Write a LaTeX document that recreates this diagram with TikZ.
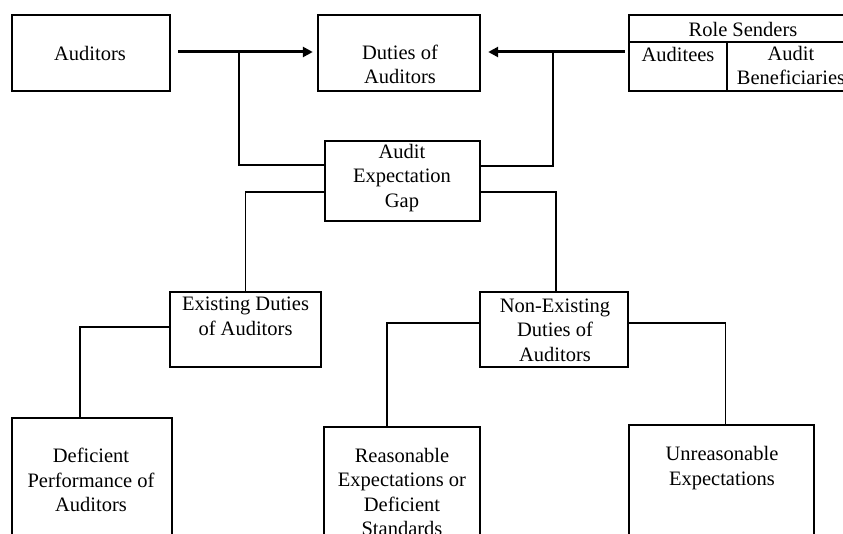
\documentclass[tikz,border=0pt]{standalone}
\usepackage{fontspec}
\setmainfont{Liberation Serif}
\usetikzlibrary{arrows.meta}
\begin{document}
\begin{tikzpicture}[x=1pt,y=-1pt,
  box/.style={draw, line width=1.1pt, inner sep=0pt},
  txt/.style={inner sep=0pt, align=center, font=\fontsize{20.5}{24.5}\selectfont},
  conn/.style={line width=1.1pt},
  thickarrow/.style={line width=3pt, -{Triangle[length=10pt,width=10pt]}}]
\useasboundingbox (0,0) rectangle (843,534);
\clip (0,0) rectangle (843,534);
\fill[white] (0,0) rectangle (843,534);
% boxes
\draw[box] (12,15) rectangle (170,91);
\node[inner sep=0pt, minimum width=158pt, minimum height=76pt] (aud) at (91,53) {};
\node[txt] (taud) at (90,53) {Auditors};

\draw[box] (318,15) rectangle (480,91);
\node[inner sep=0pt, minimum width=162pt, minimum height=76pt] (duties) at (399,53) {};
\node[txt] (tduties) at (400,64.5) {Duties of\\Auditors};

\draw[box] (629,15) rectangle (856,91);
\draw[conn] (629,42) -- (856,42);
\draw[conn] (727,42) -- (727,91);
\node[inner sep=0pt, minimum width=227pt, minimum height=76pt] (role) at (742.5,53) {};
\node[txt] (trole) at (743,29) {Role Senders};
\node[txt] (tauditees) at (678,54) {Auditees};
\node[txt] (tbenef) at (791,65.5) {Audit\\Beneficiaries};

\draw[box] (325,141) rectangle (480,221);
\node[inner sep=0pt, minimum width=155pt, minimum height=80pt] (gap) at (402.5,181) {};
\node[txt] (tgap) at (402,178) {Audit\\Expectation\\Gap};

\draw[box] (170,292) rectangle (321,367);
\node[inner sep=0pt, minimum width=151pt, minimum height=75pt] (exist) at (245.5,329.5) {};
\node[txt] (texist) at (245.5,316.5) {Existing Duties\\of Auditors};

\draw[box] (480,292) rectangle (628,367);
\node[inner sep=0pt, minimum width=148pt, minimum height=75pt] (nonex) at (554,329.5) {};
\node[txt] (tnonex) at (555,330) {Non-Existing\\Duties of\\Auditors};

\draw[box] (12,418) rectangle (172,560);
\node[inner sep=0pt, minimum width=160pt, minimum height=142pt] (defic) at (92,489) {};
\node[txt] (tdefic) at (91,480) {Deficient\\Performance of\\Auditors};

\draw[box] (324,427) rectangle (480,560);
\node[inner sep=0pt, minimum width=156pt, minimum height=133pt] (reas) at (402,493.5) {};
\node[txt] (treas) at (402,492) {Reasonable\\Expectations or\\Deficient\\Standards};

\draw[box] (629,425) rectangle (814,560);
\node[inner sep=0pt, minimum width=185pt, minimum height=135pt] (unreas) at (721.5,492.5) {};
\node[txt] (tunreas) at (722,468) {Unreasonable\\Expectations};

% arrows
\draw[thickarrow] ([xshift=8pt,yshift=1pt]aud.east) -- ([xshift=-5pt,yshift=1pt]duties.west);
\draw[thickarrow] ([xshift=-4pt,yshift=1pt]role.west) -- ([xshift=8pt,yshift=1pt]duties.east);
\coordinate (jl) at (239,52);
\coordinate (jr) at (553,52);
\draw[conn] (jl) |- ([yshift=16pt]gap.west);
\draw[conn] (jr) |- ([yshift=15pt]gap.east);
% tree
\draw[conn] ([yshift=-11pt]gap.west) -| (exist.north);
\draw[conn] ([yshift=-11pt]gap.east) -| ([xshift=2pt]nonex.north);
\draw[conn] ([yshift=2.5pt]exist.west) -| ([xshift=-12pt]defic.north);
\draw[conn] ([yshift=6.5pt]nonex.west) -| ([xshift=-15pt]reas.north);
\draw[conn] ([yshift=6.5pt]nonex.east) -| ([xshift=4pt]unreas.north);
\end{tikzpicture}
\end{document}
